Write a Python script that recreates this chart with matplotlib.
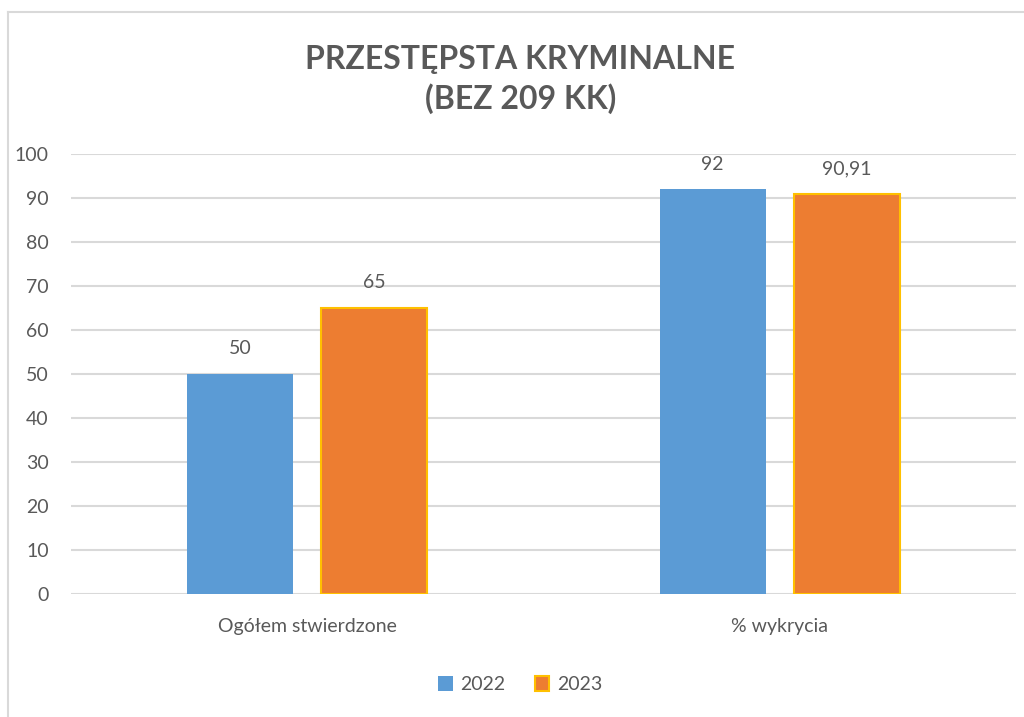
import numpy as np
import matplotlib.pyplot as plt
from matplotlib.lines import Line2D

categories = ['Ogółem stwierdzone', '% wykrycia']
years = ['2022', '2023']
values_2022 = [50, 92]
values_2023 = [65, 90.91]
labels_2022 = ['50', '92']
labels_2023 = ['65', '90,91']

plt.rcParams['font.family'] = ['Lato', 'DejaVu Sans']
grey = '#595959'

fig = plt.figure(figsize=(10.24, 7.17), dpi=100)
ax = fig.add_axes([0.0693, 0.1715, 0.9229, 0.6137])

x = np.arange(len(categories))
w = 0.224
off = 0.142
b1 = ax.bar(x - off, values_2022, w, color='#5B9BD5', label=years[0], zorder=3)
b2 = ax.bar(x + off, values_2023, w, color='#ED7D31', edgecolor='#FFC000',
            linewidth=1.5, label=years[1], zorder=3)

for bars, labs in [(b1, labels_2022), (b2, labels_2023)]:
    for rect, lab in zip(bars, labs):
        ax.annotate(lab, (rect.get_x() + rect.get_width() / 2, rect.get_height()),
                    xytext=(0, 12), textcoords='offset points', ha='center',
                    va='bottom', fontsize=14, color=grey)

ax.set_xlim(-0.5, 1.5)
ax.set_ylim(0, 100)
ax.set_yticks(range(0, 101, 10))
ax.set_xticks(x)
ax.set_xticklabels(categories)
ax.tick_params(axis='both', length=0, labelsize=14, colors=grey)
ax.tick_params(axis='y', pad=16)
ax.tick_params(axis='x', pad=17)
ax.grid(axis='y', color='#D9D9D9', linewidth=1.5, zorder=0)
for s in ax.spines.values():
    s.set_visible(False)

fig.text(0.508, 0.889, 'PRZESTĘPSTA KRYMINALNE\n(BEZ 209 KK)', ha='center',
         va='center', fontsize=23, fontweight='bold', color=grey, linespacing=1.35)

ax.legend(loc='center', bbox_to_anchor=(0.508, 0.045), bbox_transform=fig.transFigure,
          ncol=2, frameon=False, fontsize=14, labelcolor=grey, handlelength=0.75,
          handleheight=0.75, columnspacing=1.5, handletextpad=0.4)

# chart frame
fig.add_artist(Line2D([8 / 1024, 8 / 1024], [0, 1 - 12 / 717], color='#D9D9D9', lw=1.5))
fig.add_artist(Line2D([8 / 1024, 1], [1 - 12 / 717, 1 - 12 / 717], color='#D9D9D9', lw=1.5))

fig.savefig('out.png', dpi=100)
